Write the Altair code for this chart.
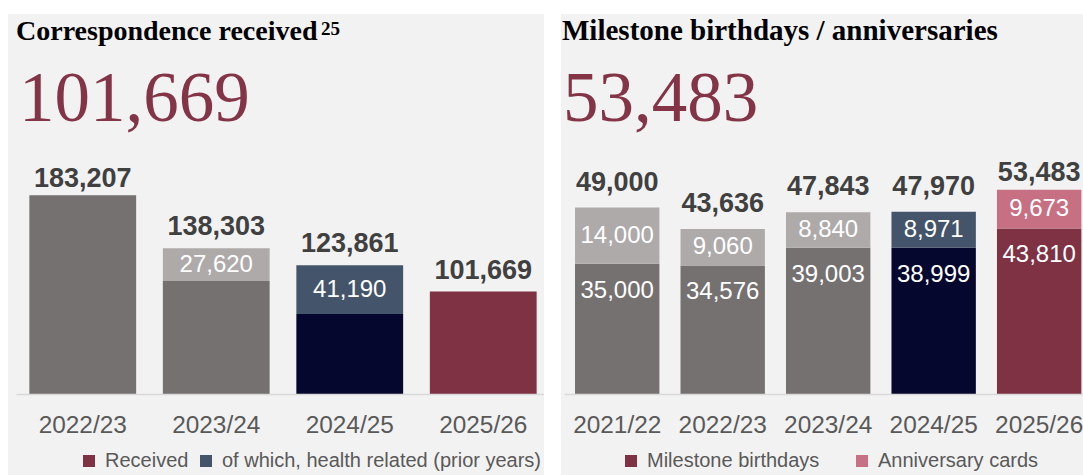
import altair as alt
import pandas as pd

# ---------------- data ----------------
years_l = ["2022/23", "2023/24", "2024/25", "2025/26"]
received_l = [183207, 138303, 123861, 101669]
health_l = [0, 27620, 41190, 0]
base_series_l = ["Received (earlier years)", "Received (earlier years)", "Received (2024/25)", "Received"]
top_series_l = ["", "Health related (earlier years)", "of which, health related (prior years)", ""]

years_r = ["2021/22", "2022/23", "2023/24", "2024/25", "2025/26"]
milestone_r = [35000, 34576, 39003, 38999, 43810]
anniv_r = [14000, 9060, 8840, 8971, 9673]
totals_r = [49000, 43636, 47843, 47970, 53483]
base_series_r = ["Milestone (earlier years)"] * 3 + ["Milestone (2024/25)", "Milestone birthdays"]
top_series_r = ["Anniversary (earlier years)"] * 3 + ["Anniversary (2024/25)", "Anniversary cards"]

title_l = "Correspondence received"
note_l = "25"
title_r = "Milestone birthdays / anniversaries"
legend_l = ["Received", "of which, health related (prior years)"]
legend_r = ["Milestone birthdays", "Anniversary cards"]

# ---------------- style ----------------
GREY, LGREY, NAVY, SLATE = "#767171", "#AEAAAA", "#06072F", "#44546A"
MAROON, PINK, PANEL = "#7F3244", "#C87083", "#F2F2F2"
BIG = "#843447"
SANS, SERIF = "Liberation Sans", "Liberation Serif"
W_L, W_R, H = 534, 519, 380

dom_l = ["Received", "of which, health related (prior years)", "Received (earlier years)",
         "Health related (earlier years)", "Received (2024/25)"]
rng_l = [MAROON, SLATE, GREY, LGREY, NAVY]
dom_r = ["Milestone birthdays", "Anniversary cards", "Milestone (earlier years)",
         "Anniversary (earlier years)", "Milestone (2024/25)", "Anniversary (2024/25)"]
rng_r = [MAROON, PINK, GREY, LGREY, NAVY, SLATE]

# ---------------- tables ----------------
rows = []
for y, tot, h, bs, ts in zip(years_l, received_l, health_l, base_series_l, top_series_l):
    rows.append(dict(year=y, bot=0, top=tot - h, series=bs, label=None, kind="base"))
    if h:
        rows.append(dict(year=y, bot=tot - h, top=tot, series=ts, label=h, kind="top"))
seg_l = pd.DataFrame(rows)
tot_l = pd.DataFrame(dict(year=years_l, total=received_l))

rows = []
for y, m, a, t, bs, ts in zip(years_r, milestone_r, anniv_r, totals_r, base_series_r, top_series_r):
    rows.append(dict(year=y, bot=0, top=m, series=bs, label=m, kind="base"))
    rows.append(dict(year=y, bot=m, top=t, series=ts, label=a, kind="top"))
seg_r = pd.DataFrame(rows)
tot_r = pd.DataFrame(dict(year=years_r, total=totals_r))

one = pd.DataFrame({"k": [0]})


def rect(x0, x1, y0, y1, color):
    return alt.Chart(one).mark_rect(fill=color, strokeWidth=0).encode(
        x=alt.value(x0), x2=alt.value(x1), y=alt.value(y0), y2=alt.value(y1))


def label(text, x, y, size, color, font, weight="normal"):
    return alt.Chart(one).mark_text(
        align="left", baseline="alphabetic", font=font, fontSize=size,
        fontWeight=weight, color=color).encode(
        x=alt.value(x), y=alt.value(y), text=alt.value(text))


def panel(years, seg, tot, dom, rng, legend_vals, ydomain, cap, tot_dy, xscale, legx, colpad,
          title, big, width, bg_layers, extra_text):
    xaxis = alt.Axis(title=None, labelAngle=0, ticks=False, tickSize=0, grid=False,
                     domainColor="#D9D9D9", domainWidth=1.5, labelColor="#595959",
                     labelFont=SANS, labelFontSize=24.4, labelPadding=38,
                     labelBaseline="alphabetic", zindex=1)
    X = alt.X("year:N", sort=years, scale=xscale, axis=xaxis)
    ys = alt.Scale(domain=ydomain, clamp=True)

    bars = alt.Chart(seg).mark_bar().encode(
        x=X,
        y=alt.Y("top:Q", scale=ys, axis=None),
        y2="bot:Q",
        color=alt.Color("series:N", scale=alt.Scale(domain=dom, range=rng),
                        legend=alt.Legend(values=legend_vals, orient="none", legendX=legx,
                                          legendY=437, direction="horizontal", title=None,
                                          columnPadding=colpad, labelLimit=600)),
    )
    mid = alt.Chart(seg).transform_filter("datum.kind == 'top' && datum.label != null").transform_calculate(
        m="(datum.top + datum.bot) / 2").mark_text(
        font=SANS, fontSize=24, color="white", baseline="middle").encode(
        x=X, y=alt.Y("m:Q", scale=ys, axis=None), text=alt.Text("label:Q", format=","))
    end = alt.Chart(seg).transform_filter("datum.kind == 'base' && datum.label != null").mark_text(
        font=SANS, fontSize=24, color="white", baseline="middle", dy=27).encode(
        x=X, y=alt.Y("top:Q", scale=ys, axis=None), text=alt.Text("label:Q", format=","))
    tots = alt.Chart(tot).transform_calculate(ly=f"min(datum.total, {cap})").mark_text(
        font=SANS, fontSize=27, fontWeight="bold", color="#404040",
        baseline="alphabetic", dy=tot_dy).encode(
        x=X, y=alt.Y("ly:Q", scale=ys, axis=None), text=alt.Text("total:Q", format=","))

    texts = [label(title[0], title[1], 26, title[2], "black", SERIF, "bold"),
             label(big[0], big[1], 107, 71, BIG, SERIF)] + extra_text
    layers = [rect(*b) for b in bg_layers] + [bars, mid, end, tots] + texts
    return alt.layer(*layers).properties(width=width, height=H)


left = panel(years_l, seg_l, tot_l, dom_l, rng_l, legend_l, [15000, 336500], 179100, -13,
             alt.Scale(paddingInner=0.2, paddingOuter=0.1),
             63, 7, (title_l, 0, 28), (f"{received_l[-1]:,}", 3), W_L,
             [(-16, 528, -14, 461, "white"), (-8, 528, 0, 461, PANEL)],
             [label(note_l, 305, 21, 19, "black", SERIF, "bold")])
right = panel(years_r, seg_r, tot_r, dom_r, rng_r, legend_r, [2500, 97300], 51400, -17,
              alt.Scale(paddingInner=0.2, paddingOuter=0.06, align=0.87),
              57, 32, (title_r, -2, 29), (f"{totals_r[-1]:,}", -1), W_R,
              [(-20, -3, -14, 461, "white"), (-3, W_R, 0, 461, PANEL)], [])

chart = alt.hconcat(left, right, spacing=14, bounds="flush").resolve_scale(
    x="independent", y="independent", color="independent").configure_view(
    stroke=None).configure_legend(
    labelFont=SANS, labelFontSize=20, labelColor="#595959", symbolType="square",
    symbolSize=144, symbolStrokeWidth=0, labelOffset=6, padding=0).properties(
    padding=0, background="white")

chart.save("out.html", embed_options={"renderer": "svg", "actions": False})
